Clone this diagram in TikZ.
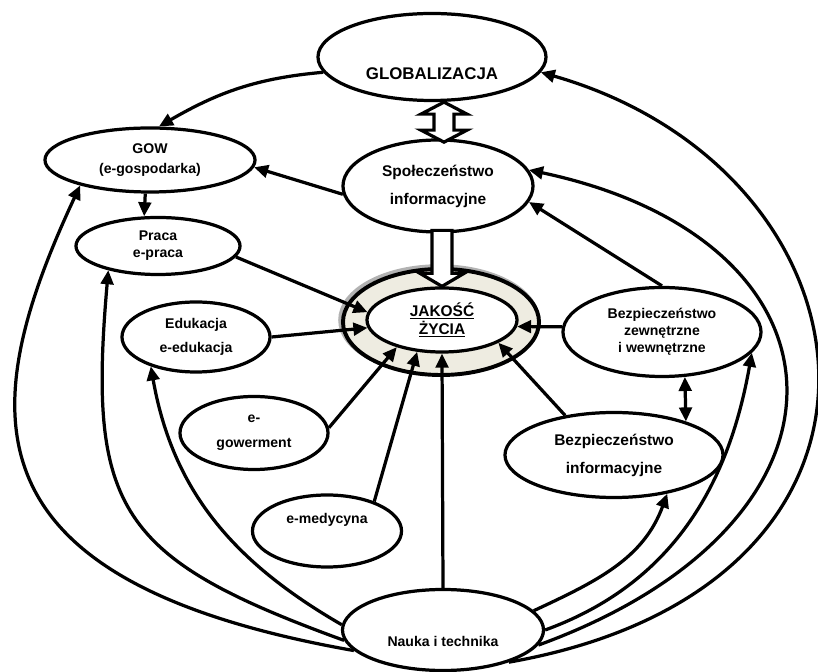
\documentclass[tikz,border=0pt]{standalone}
\usepackage{fontspec}
\setmainfont{Liberation Sans}
\usetikzlibrary{arrows.meta,shapes.geometric}
\definecolor{ringfill}{RGB}{238,236,225}
\tikzset{
  blob/.style={ellipse, draw, line width=2.3pt, fill=white, align=center, inner sep=0pt,
    font=\bfseries\fontsize{10}{12}\selectfont},
  arr/.style={line width=2.3pt, -{Triangle[length=10pt,width=9pt]}},
  darr/.style={line width=2.3pt, {Triangle[length=10pt,width=9pt]}-{Triangle[length=10pt,width=9pt]}},
  hollow/.style={draw, line width=2.3pt, fill=white, line join=miter},
}
\begin{document}
\begin{tikzpicture}[x=0.025cm, y=0.025cm]
\useasboundingbox (0,0) rectangle (818,672);

% ring round the centre
\node[ellipse, draw=gray!60, line width=2.5pt, minimum width=4.95cm, minimum height=2.7cm] (shade) at (439,352) {};
\node[ellipse, draw, fill=ringfill, line width=2.8pt, minimum width=4.9cm, minimum height=2.65cm] (ring) at (441,350) {};

\node[blob, minimum width=5.7cm, minimum height=2.175cm, font=\bfseries\fontsize{12}{14}\selectfont] (glob) at (432,615) {\raisebox{-0.55cm}[0pt][0pt]{GLOBALIZACJA}};
\node[blob, minimum width=5.25cm, minimum height=1.6cm] (gow) at (150,512) {GOW\\[2pt](e-gospodarka)};
\node[blob, minimum width=4.1cm, minimum height=1.425cm] (praca) at (158,426) {Praca\\e-praca};
\node[blob, minimum width=4.75cm, minimum height=2.3cm, font=\bfseries\fontsize{11}{13}\selectfont] (spol) at (438,486) {Społeczeństwo\\[7pt]informacyjne};
\node[blob, minimum width=3.75cm, minimum height=1.6cm, font=\bfseries\fontsize{11}{13}\selectfont] (jakosc) at (442,352) {\underline{JAKOŚĆ}\\\underline{ŻYCIA}};
\node[blob, minimum width=3.7cm, minimum height=1.75cm] (eduk) at (196,335) {Edukacja\\[5.5pt]e-edukacja};
\node[blob, minimum width=3.7cm, minimum height=1.825cm] (egow) at (254,239) {e-\\[5.5pt]gowerment};
\node[blob, minimum width=3.725cm, minimum height=1.8cm] (emed) at (327,141) {\raisebox{0.19cm}[0pt][0pt]{e-medycyna}};
\node[blob, minimum width=4.95cm, minimum height=2.225cm] (bzew) at (662,340) {Bezpieczeństwo\\zewnętrzne\\i wewnętrzne};
\node[blob, minimum width=5.45cm, minimum height=2.125cm, font=\bfseries\fontsize{11}{13}\selectfont] (binf) at (614,217) {Bezpieczeństwo\\[7pt]informacyjne};
\node[blob, minimum width=5.025cm, minimum height=2.025cm] (nauka) at (443,42) {\raisebox{-0.42cm}[0pt][0pt]{Nauka i technika}};

% wide arrows
\draw[hollow] ([xshift=0.3cm]glob.south) -- ++(23,-12) -- ++(-13,0) -- ++(0,-16) -- ++(13,0) -- ++(-23,-12)
  -- ++(-23,12) -- ++(13,0) -- ++(0,16) -- ++(-13,0) -- cycle;
\draw[hollow] (jakosc.north) -- ++(22,13) -- ++(-12,0) -- ++(0,43) -- ++(-20,0) -- ++(0,-43) -- ++(-12,0) -- cycle;

\draw[arr] (glob.188) to[out=185, in=30] (gow.75);
\draw[arr] (spol.185) -- (gow.-4);
\draw[arr] (gow.262) -- (praca.115);
\draw[arr] (praca.-8) -- (jakosc.174);
\draw[arr] (eduk.east) -- (jakosc.186);
\draw[arr] (egow.4) -- (jakosc.211);
\draw[arr] (emed.32) -- (jakosc.232);
\draw[arr] (nauka.north) -- (jakosc.south);
\draw[arr] (binf.141) -- (jakosc.-22);
\draw[arr] (bzew.177) -- (jakosc.-5);
\draw[arr] (bzew.north) -- (spol.-10);
\draw[darr] (binf.25) -- (bzew.-63);

% science and technology
\draw[arr] (nauka.177) to[out=150, in=-80] (eduk.213);
\draw[arr] (nauka.186) to[out=160, in=-95, looseness=1.4] (praca.206);
\draw[arr] (nauka.193) .. controls +(170:10cm) and +(245:6.25cm) .. (gow.200);
\draw[arr] (nauka.12) to[out=25, in=-110] (binf.-36);
\draw[arr] (nauka.east) to[out=20, in=-100] (bzew.-13);
\draw[arr] (nauka.-9) .. controls +(20:9cm) and +(-12:8.5cm) .. (spol.10);
\draw[arr] (nauka.-26) .. controls +(10:11cm) and +(-16:9cm) .. (glob.-8);
\end{tikzpicture}
\end{document}
